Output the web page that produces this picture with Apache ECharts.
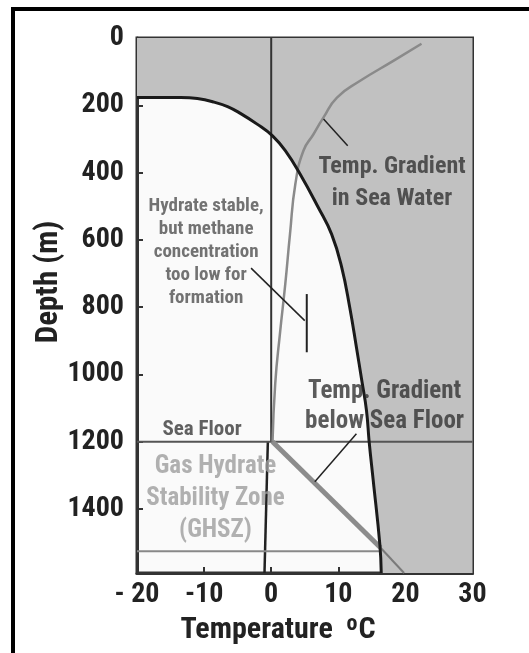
<!DOCTYPE html>
<html>
<head>
<meta charset="utf-8">
<script src="https://cdn.jsdelivr.net/npm/echarts@6/dist/echarts.min.js"></script>
<style>
	html, body { margin: 0; padding: 0; background: #fff; }
	#chart-ghsz { width: 529px; height: 653px; }
</style>
</head>
<body>
<div id="chart-ghsz"></div>
<script type="text/javascript">
	// 相边界 (temperature °C, depth m)
	var boundaryT     = [-20, -13.5, -11, -8.6, -6.5, -4.6, -2.1, 0.2, 2.1, 4.3, 7.0, 9.0, 10.5, 11.7, 12.7, 13.5, 14.2, 14.6, 15.2, 16.2, 16.4];
	var boundaryDepth = [177, 177, 180, 190, 204, 224, 256, 291, 335, 404, 503, 583, 681, 800, 919, 1018, 1107, 1200, 1314, 1507, 1590];
	// temp gradient in sea water
	var seaWaterT     = [22.4, 18.2, 13.2, 9.8, 7.8, 6.3, 4.8, 3.6, 2.8, 2.1, 1.3, 0.6, 0.2];
	var seaWaterDepth = [17, 68, 128, 177, 236, 286, 335, 434, 583, 731, 879, 1027, 1200];
	// temp gradient below sea floor
	var sedimentT     = [0.2, 16.3];
	var sedimentDepth = [1200, 1515];
	var tailT         = [16.3, 19.8];
	var tailDepth     = [1515, 1590];
	// 0 °C line and the line below the sea floor
	var zeroT = [0, 0];
	var zeroDepth = [0, 1200];
	var belowT = [-0.5, -1.0];
	var belowDepth = [1200, 1590];
	var seaFloorDepth = 1200;
	var ghszBaseDepth = 1525;
	var ghszBaseT = [-20, 16.3];

	var xMin = -20, xMax = 30, xStep = 10;
	var yMin = 0, yMax = 1590, yStep = 200, yLastLabel = 1400;

	// annotation leader lines [[T, depth], [T, depth]]
	var seaWaterLeader = [[7.8, 241], [11.4, 320]];
	var hydrateLeader = [[-3.0, 684], [5.0, 840]];
	var hydrateBar = [[5.3, 761], [5.3, 934]];
	var belowLeader = [[12.7, 1176], [6.5, 1319]];

	var FONT = "'Roboto Condensed', 'Open Sans Condensed', sans-serif";

	function pairs(xs, ys) {
		var out = [];
		for (var i = 0; i < xs.length; i++) out.push([xs[i], ys[i]]);
		return out;
	}
	function seg(name, data, color, width, z) {
		return {
			name: name, type: 'line', data: data, symbol: 'none', silent: true,
			z: z || 3, lineStyle: { color: color, width: width }
		};
	}
	function note(t, d, text, size, color, lh) {
		return {
			value: [t, d],
			label: {
				show: true, position: 'inside', formatter: text, fontFamily: FONT,
				fontWeight: 'bold', fontSize: size, color: color, lineHeight: lh, align: 'center'
			}
		};
	}

	var regionData = pairs(boundaryT, boundaryDepth).concat([[xMax, yMax]]);

	var option = {
		animation: false,
		grid: {
			left: 137, right: 56.5, top: 38, bottom: 80,
			show: true, backgroundColor: '#fafafa', borderColor: '#333', borderWidth: 3
		},
		xAxis: {
			type: 'value', min: xMin, max: xMax, interval: xStep,
			axisLine: { show: true, onZero: false, lineStyle: { color: '#333', width: 3 } },
			axisTick: { show: true, inside: true, length: 6, lineStyle: { color: '#333', width: 2 } },
			splitLine: { show: false },
			axisLabel: {
				margin: 8, fontFamily: FONT, fontWeight: 'bold', fontSize: 28, color: '#222',
				formatter: function (v) { return v === xMin ? '- ' + Math.abs(v) : String(v); }
			}
		},
		yAxis: {
			type: 'value', inverse: true, min: yMin, max: yMax, interval: yStep,
			axisLine: { show: true, onZero: false, lineStyle: { color: '#333', width: 3 } },
			axisTick: { show: true, inside: true, length: 6, lineStyle: { color: '#333', width: 2 } },
			splitLine: { show: false },
			axisLabel: {
				margin: 13, fontFamily: FONT, fontWeight: 'bold', fontSize: 28, color: '#222',
				formatter: function (v) { return (v % yStep === 0 && v <= yLastLabel) ? String(v) : ''; }
			}
		},
		series: [
			{
				name: 'region', type: 'line', data: regionData, symbol: 'none', silent: true, z: 1,
				smooth: 0.45, lineStyle: { width: 0 },
				areaStyle: { color: '#c1c1c1', origin: 'start', opacity: 1 }
			},
			seg('zero', pairs(zeroT, zeroDepth), '#333', 2),
			seg('below', pairs(belowT, belowDepth), '#222', 2.5),
			seg('seafloor', [[xMin, seaFloorDepth], [xMax, seaFloorDepth]], '#555', 2),
			seg('ghszbase', [[ghszBaseT[0], ghszBaseDepth], [ghszBaseT[1], ghszBaseDepth]], '#888', 2),
			Object.assign(seg('seawater', pairs(seaWaterT, seaWaterDepth), '#8a8a8a', 2.5), { smooth: 0.5 }),
			seg('sediment', pairs(sedimentT, sedimentDepth), '#8c8c8c', 5),
			seg('tail', pairs(tailT, tailDepth), '#7a7a7a', 2),
			Object.assign(seg('boundary', pairs(boundaryT, boundaryDepth), '#1a1a1a', 3, 5), { smooth: 0.45 }),
			seg('l1', seaWaterLeader, '#222', 1.5),
			seg('l2', hydrateLeader, '#222', 1.5),
			seg('l3', hydrateBar, '#222', 2),
			seg('l4', belowLeader, '#222', 1.5),
			{
				name: 'notes', type: 'scatter', symbolSize: 0, silent: true, z: 10,
				data: [
					note(18.0, 430, 'Temp. Gradient\nin Sea Water', 24, '#333', 32),
					note(-9.7, 638, 'Hydrate stable,\nbut methane\nconcentration\ntoo low for\nformation', 19, '#505050', 23),
					note(16.9, 1097, 'Temp. Gradient\nbelow Sea Floor', 25, '#333', 30),
					note(-10.3, 1165, 'Sea Floor', 21, '#3a3a3a', 24),
					note(-8.3, 1368, 'Gas Hydrate\nStability Zone\n(GHSZ)', 25, '#9d9d9d', 32)
				]
			}
		],
		graphic: [
			{
				type: 'rect', silent: true, z: 100,
				shape: { x: 13, y: 9, width: 620, height: 700 },
				style: { fill: 'none', stroke: '#000', lineWidth: 4 }
			},
			{
				type: 'text', silent: true, x: 49, y: 282, rotation: Math.PI / 2,
				style: {
					text: 'Depth (m)', font: 'bold 31px ' + FONT, fill: '#222',
					align: 'center', verticalAlign: 'middle', textAlign: 'center', textVerticalAlign: 'middle'
				}
			},
			{
				type: 'text', silent: true, x: 278, y: 630,
				style: {
					text: 'Temperature  {s|o}C', font: 'bold 30px ' + FONT, fill: '#222',
					align: 'center', verticalAlign: 'middle', textAlign: 'center', textVerticalAlign: 'middle',
					rich: { s: { font: 'bold 22px ' + FONT, fill: '#222', verticalAlign: 'top', padding: [0, 1, 12, 0] } }
				}
			}
		]
	};

	var chart = echarts.init(document.getElementById('chart-ghsz'));
	chart.setOption(option);
</script>
</body>
</html>
